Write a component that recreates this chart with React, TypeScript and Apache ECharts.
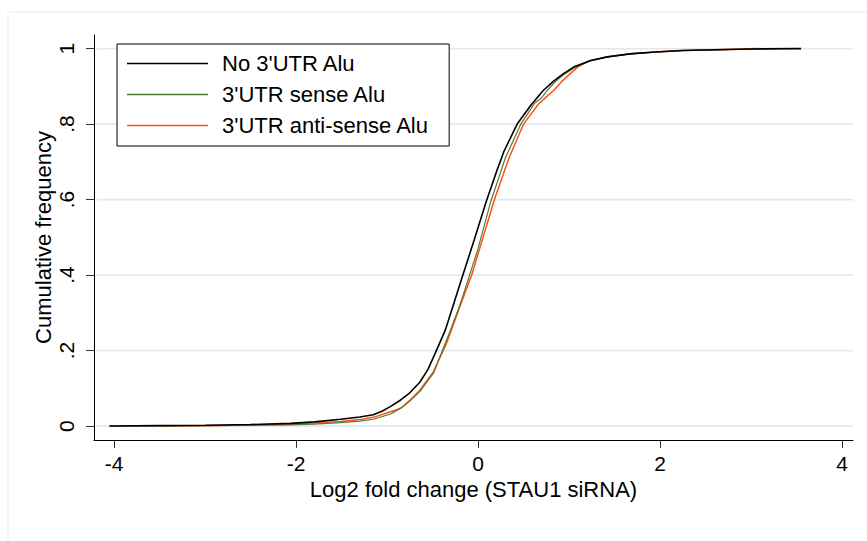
import React, { useEffect, useRef } from "react";
import * as echarts from "echarts";

const seriesNames = ["No 3'UTR Alu", "3'UTR sense Alu", "3'UTR anti-sense Alu"];
const seriesColors = ["#000000", "#557a32", "#ff4f14"];

const noAluX = [-4.05, -3.5, -3.0, -2.5, -2.06, -1.8, -1.51, -1.3, -1.15, -1.05, -0.96, -0.85, -0.75, -0.64, -0.55, -0.47, -0.36, -0.27, -0.18, -0.1, -0.04, 0.09, 0.2, 0.285, 0.43, 0.58, 0.716, 0.83, 0.935, 1.05, 1.23, 1.42, 1.67, 1.95, 2.25, 3.0, 3.55];
const noAluY = [0, 0.001, 0.002, 0.004, 0.007, 0.011, 0.018, 0.024, 0.03, 0.04, 0.052, 0.069, 0.088, 0.116, 0.15, 0.193, 0.254, 0.322, 0.39, 0.45, 0.495, 0.595, 0.672, 0.728, 0.8, 0.85, 0.889, 0.914, 0.933, 0.951, 0.968, 0.978, 0.986, 0.991, 0.995, 0.999, 1.0];

const senseX = [-4.05, -3.5, -3.0, -2.5, -2.06, -1.8, -1.51, -1.3, -1.15, -0.96, -0.85, -0.75, -0.64, -0.49, -0.31, -0.2, -0.106, 0.0, 0.14, 0.3, 0.47, 0.62, 0.7, 0.76, 0.86, 0.953, 1.05, 1.23, 1.42, 1.67, 1.95, 2.25, 3.29];
const senseY = [0, 0.0005, 0.001, 0.002, 0.003, 0.005, 0.009, 0.013, 0.018, 0.032, 0.047, 0.066, 0.091, 0.14, 0.25, 0.32, 0.39, 0.47, 0.595, 0.71, 0.8, 0.855, 0.87, 0.889, 0.915, 0.933, 0.948, 0.968, 0.978, 0.986, 0.991, 0.995, 1.0];

const antiX = [-3.47, -3.0, -2.5, -2.06, -1.8, -1.51, -1.3, -1.15, -0.96, -0.85, -0.75, -0.64, -0.49, -0.34, -0.2, -0.07, 0.03, 0.18, 0.34, 0.5, 0.66, 0.75, 0.83, 0.92, 1.01, 1.1, 1.23, 1.42, 1.67, 1.95, 2.25, 3.09];
const antiY = [0, 0.001, 0.003, 0.005, 0.008, 0.012, 0.017, 0.023, 0.038, 0.047, 0.068, 0.095, 0.144, 0.223, 0.316, 0.4, 0.48, 0.6, 0.71, 0.8, 0.852, 0.872, 0.889, 0.913, 0.933, 0.952, 0.968, 0.978, 0.986, 0.991, 0.995, 1.0];

const xTicks = [-4, -2, 0, 2, 4];
const yTicks = [0, 0.2, 0.4, 0.6, 0.8, 1];

const FONT = "Liberation Sans";
const X_MIN = -4.22;
const X_MAX = 4.12;

function pairs(xs: number[], ys: number[]) {
  return xs.map((x, i) => [x, ys[i]]);
}

export default function App() {
  const ref = useRef<HTMLDivElement>(null);
  useEffect(() => {
    document.body.style.margin = "0";
    if (!ref.current) return;
    const chart = echarts.init(ref.current, null, { renderer: "svg" });
    const datasets = [pairs(noAluX, noAluY), pairs(senseX, senseY), pairs(antiX, antiY)];
    const widths = [1.6, 1.2, 1.5];
    const gridSeries = yTicks.map((v, k) => ({
      name: "__grid" + k,
      type: "line",
      data: [
        [X_MIN + 0.03, v],
        [X_MAX, v],
      ],
      symbol: "none",
      showSymbol: false,
      silent: true,
      z: 0,
      color: "#e1e9ee",
      lineStyle: { color: "#e1e9ee", width: 1.8, opacity: 1 },
      tooltip: { show: false },
    }));
    chart.setOption({
      animation: false,
      backgroundColor: "#ffffff",
      textStyle: { fontFamily: FONT },
      graphic: [
        {
          type: "rect",
          shape: { x: 8, y: 12, width: 880, height: 560 },
          style: { fill: "none", stroke: "#e4ecee", lineWidth: 1 },
          silent: true,
          z: -10,
        },
      ],
      grid: { left: 94, right: 14, top: 35, bottom: 101, containLabel: false },
      legend: {
        show: true,
        orient: "vertical",
        left: 117,
        top: 44,
        data: seriesNames.map((n) => ({ name: n, icon: "rect" })),
        itemWidth: 81,
        itemHeight: 1.5,
        itemGap: 0,
        padding: [4, 20, 5, 10],
        borderColor: "#000",
        borderWidth: 1,
        backgroundColor: "#fff",
        z: 10,
        textStyle: { fontFamily: FONT, fontSize: 22, color: "#000", lineHeight: 31, padding: [0, 0, 0, 9] },
      },
      xAxis: {
        type: "value",
        min: X_MIN,
        max: X_MAX,
        name: "Log2 fold change (STAU1 siRNA)",
        nameLocation: "middle",
        nameGap: 36,
        nameTextStyle: { fontFamily: FONT, fontSize: 22, color: "#000" },
        axisLine: { show: true, onZero: false, lineStyle: { color: "#000", width: 1 } },
        axisTick: { show: true, length: 8, customValues: xTicks, lineStyle: { color: "#333", width: 1 } },
        axisLabel: { customValues: xTicks, fontFamily: FONT, fontSize: 21, color: "#000", margin: 13 },
        splitLine: { show: false },
      },
      yAxis: {
        type: "value",
        min: -0.037,
        max: 1.036,
        name: "Cumulative frequency",
        nameLocation: "middle",
        nameGap: 40,
        nameMoveOverlap: false,
        nameTextStyle: { fontFamily: FONT, fontSize: 22, color: "#000" },
        axisLine: { show: true, onZero: false, lineStyle: { color: "#000", width: 1 } },
        axisTick: { show: true, length: 8, customValues: yTicks, lineStyle: { color: "#333", width: 1 } },
        axisLabel: {
          customValues: yTicks,
          rotate: 90,
          fontFamily: FONT,
          fontSize: 21,
          color: "#000",
          margin: 17,
          formatter: (v: number) => (v === 0 ? "0" : v === 1 ? "1" : String(v).replace(/^0/, "")),
        },
        splitLine: { show: false },
      },
      series: [
        ...gridSeries,
        ...seriesNames.map((name, i) => ({
          name,
          type: "line",
          data: datasets[i],
          symbol: "none",
          showSymbol: false,
          smooth: false,
          z: 2 + (2 - i),
          color: seriesColors[i],
          lineStyle: { color: seriesColors[i], width: widths[i] },
        })),
      ],
    });
    return () => chart.dispose();
  }, []);
  return <div ref={ref} style={{ width: 867, height: 541 }} />;
}
